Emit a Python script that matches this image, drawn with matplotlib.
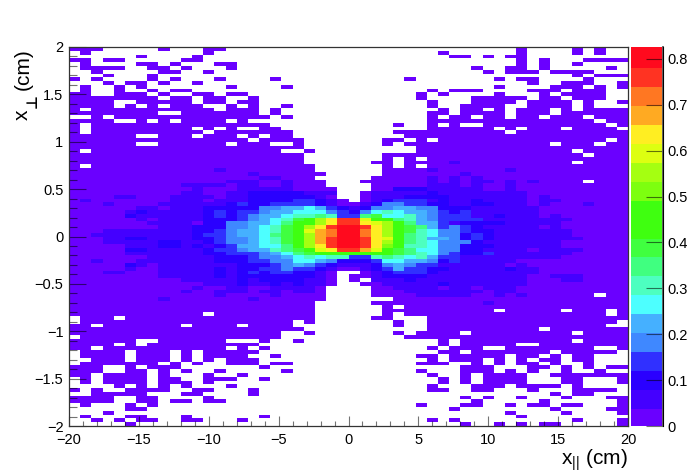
"""Recreate the x_par / x_perp 2D histogram with its stepped colour palette."""

from __future__ import annotations

import matplotlib
import numpy as np

matplotlib.use("Agg")

import matplotlib.pyplot as plt
from matplotlib.colors import BoundaryNorm, ListedColormap
from matplotlib.ticker import FixedLocator, MultipleLocator

WIDTH, HEIGHT = 698, 475
LEFT, RIGHT, TOP, BOTTOM = 69, 628, 47, 426
BAR_LEFT, BAR_RIGHT = 631, 663

X_RANGE = (-20.0, 20.0)
Y_RANGE = (-2.0, 2.0)
Z_MAX = 0.826
X_TICKS = [-20, -15, -10, -5, 0, 5, 10, 15, 20]
Y_TICKS = [-2, -1.5, -1, -0.5, 0, 0.5, 1, 1.5, 2]
Z_TICKS = [0, 0.1, 0.2, 0.3, 0.4, 0.5, 0.6, 0.7, 0.8]

PALETTE = [
    "#6a00ff", "#4400ff", "#2a00ff", "#3030ff", "#3f88ff",
    "#45b0ff", "#4dffff", "#4dffc0", "#40ff80", "#40ff40",
    "#3fff10", "#3fff10", "#7dff0f", "#a5ff11", "#ddff11",
    "#ffee22", "#ffaa22", "#ff7722", "#ff3322", "#ff0a1e",
]

# one character per bin, top row first: "." is empty, 0-9 then a-j are palette levels
LEVEL_CODES = "0123456789abcdefghij"
E = ".........."
A = "0000000000"
LEVEL_ROWS = [
    ["000.....0.", "..00......", E, E, "0....0.0.."],
    [".0........", "..0.......", E, "...0......", "0....0.0.."],
    ["......0...", ".0........", E, "....00.0.0", "0........."],
    ["00.00.....", "00........", E, E, "0.0...0000"],
    [".0....00.0", "...00.....", E, E, "0.0..0...."],
    [".0000..00.", "0...0.....", E, "......0..0", "0.0.....0."],
    ["..0.....00", "..0.......", E, ".......0.0", "00.0000..."],
    ["...0...0..", E, E, E, ".....0.000"],
    ["0.0....0.0", "...0....0.", E, "0.......0.", "00....0..."],
    ["...0.00.0.", ".0........", E, E, ".0..000..0"],
    [".0..0.0...", "....0....0", E, "........0.", "...000.0.0"],
    [".0..0..0.0", "0.........", E, "..0.000...", ".000.000.."],
    ["00..000.0.", ".00.00....", E, ".0.0....0.", "..0.0000.."],
    ["00000000.0", "0.00..0...", E, ".0....0000", "0.00.000.."],
    ["0000..0000", "0.00.00...", E, "..0...0000", ".0000.0..0"],
    ["0000.0.0.0", "00..0.0..0", E, "..0..0000.", ".0000.0..."],
    ["0.00000000", "000.000.0.", E, "...0.00.0.", "000.0.0000"],
    ["00000000..", "0000000.0.", E, "..00.0000.", "000.000000"],
    ["..0.000000", "00000000.0", E, "..0.00.00.", "00.000.000"],
    ["0000..0.0.", "0000.0....", E, "..00000000", "0000000.00"],
    ["0.00000000", "00000000..", ".........0", "..0.0..000", "00000000.0"],
    ["0.00000000", "0.0.0..00.", E, "..000000.0", ".000.0000."],
    ["0.00000000", "00.0000000", ".........0", "000000000.", A],
    ["000000..00", "0.000.0.00", E, A, A],
    [A, "000000.000", "0.......00", ".0.0000000", "00000000.0"],
    ["000000..00", "0000.000..", "0.......0.", A, "000.000.00"],
    [A, A, "0.........", ".000000000", A],
    ["0.00000000", "000000000.", ".0........", ".000000000", "00000.0000"],
    [A, A, "0.......00", A, "000000.000"],
    [A, A, "0.......0.", "0.00000000", A],
    [A, A, "0......00.", "0000100000", "00000.0000"],
    ["0.00000000", A, "00......0.", "0.00000000", A],
    [A, "0001000000", "00......00", "0010000001", A],
    [A, "0000001000", "000.....00", "0000010000", A],
    [A, "0000000110", "00.....000", "0010101000", A],
    [A, "0000111001", "000...0000", "0010101101", "010000.000"],
    [A, "1111011001", "000....000", "0011101001", A],
    [A, "0100011111", "0000...002", "2211111001", A],
    [A, "1100112222", "2111..0111", "1121111111", "1000000000"],
    ["0000110001", "1110112222", "2210..0111", "2222111111", "1010000000"],
    ["0100000001", "1101112222", "33210.0123", "3312112111", "1011000000"],
    ["0001000011", "1111232233", "3321001244", "3322112211", "1010001000"],
    ["0000001101", "1122222445", "5653212445", "5442221111", "1100000000"],
    ["0000012111", "1123233455", "6664324676", "5543231111", "1100000000"],
    ["0000021111", "1123234556", "7787338966", "7543331121", "1101000000"],
    ["0000001011", "1122234567", "9bdfiieba8", "7543333111", "1111100000"],
    ["0000000111", "1022445568", "abdfiifeda", "8553122221", "1111000000"],
    ["0000000011", "1222445679", "bdfijjifda", "9853432111", "1101000000"],
    ["0001111111", "1223455679", "beghjjhfda", "9764432211", "1111100000"],
    ["0011111111", "1233455689", "bdghjjhfda", "8764423211", "1111100000"],
    ["0001122111", "1223445679", "bdgijjifea", "8755423211", "1111110000"],
    ["0001111122", "1123445679", "bdgijjifda", "8764442111", "1111000000"],
    ["0000011122", "1212355668", "adfijjifca", "7764422211", "1111000000"],
    ["0000022111", "1123345578", "9befiigeb9", "8664422111", "1011110000"],
    ["0000011111", "1122333456", "89bbaaaba9", "8764322311", "1111100000"],
    ["0000000111", "1112223445", "6767733787", "6753311111", "1111000000"],
    ["0010001111", "1112223344", "6654222366", "5542311111", A],
    ["0000021011", "1111122234", "5432111245", "4331111110", "1000000000"],
    ["0000010011", "1112122334", "3321001235", "3322111112", "1100000000"],
    ["0001100011", "1112123233", "2210..0123", "3321111111", "1100000000"],
    ["0000000011", "1112122222", "2210.00122", "2211111111", "1001110000"],
    [A, "1111121222", "2110.0.111", "2111111111", "1000110000"],
    [A, "0011121121", "2110..0011", "1112111111", "1000000000"],
    [A, "0100110011", "110....001", "1110110111", A],
    [A, "1001110110", "110....000", "1111111011", A],
    [A, "0001000010", "000....000", "0111110010", "1000000.00"],
    ["0000000010", "0000001000", "000......0", A, A],
    [A, A, "00.....000", "0000000100", A],
    [A, A, "00......0.", A, A],
    [A, A, "00......00", "00000000.0", "0000.000.0"],
    [A, "00.0000000", "00......0.", A, "00000000.0"],
    [".000.00000", A, "00.....00.", "..00000000", A],
    [".000000000", A, ".0.......0", "..00000000", "000000000."],
    ["00.0000000", ".0000.0000", ".........0", "..00000000", "00000000.."],
    [A, A, "0.........", "..00000000", "00.0000000"],
    [A, "000000000.", ".0.......0", ".0000.0000", "00000.0000"],
    [".000000000", "000000000.", E, A, A],
    ["000000..00", "0000...0..", "0.........", "...0.00000", "00000.0000"],
    ["0000.0.000", "0000000...", E, "...0.00000", "..00000000"],
    ["00.0000000", "0000.0.0..", E, "..0.000..0", "0000000..0"],
    [".0000.000.", "0.00000...", E, "...00.0000", "000.00000."],
    [".0000.000.", "0.0000..0.", E, ".00.00000.", "00.0.00..."],
    ["..000.000.", "0.0.000...", E, "..0.000.0.", "0.00.00..."],
    [".0000000.0", ".0..000.00", E, ".000..0.0.", "00.0..0..."],
    ["000..0.000", ".......0..", E, ".....000..", ".00.0.0.00"],
    ["000..00.0.", "0..0.....0", E, ".0...000.0", ".0..0..0.."],
    ["00.0000.0.", "..0..0....", E, "..0..0.000", "0..0000000"],
    [".0.0000.00", "..000..0..", E, "...0.0.000", "0...00...0"],
    [".0.0000.00", "0.0.......", E, "...0.0.000", "0...00...0"],
    ["....0.0.0.", "0...0.....", E, "..0...000.", "0000.0...."],
    ["0.0..0000.", ".00...0...", E, "..00..00..", ".0...0000."],
    ["..00000...", "00....0...", E, E, "...0.00..."],
    ["0000..00..", "..0.......", E, ".....0.0..", "0...0...00"],
    ["0000..00.0", "0.00......", E, "......0...", "..0......0"],
    [".0...0.0..", E, E, ".0...00..0", ".00.00...0"],
    [".....00...", E, E, "....0.....", "...0....00"],
    ["...0......", E, E, ".........0", "....0....0"],
    [".0...00...", "0......0..", E, E, "0........."],
    ["..0.0.00..", "00...0....", E, "..0.0.....", ".....0...0"],
    [".....0....", E, E, ".....0..0.", "0.00.....0"],
]


def build_grid() -> np.ma.MaskedArray:
    """Turn the level rows into a masked array of bin contents, bottom row first."""

    step = Z_MAX / len(PALETTE)
    rows = []
    for groups in LEVEL_ROWS:
        text = "".join(groups)
        rows.append([(LEVEL_CODES.index(c) + 0.5) * step if c != "." else np.nan for c in text])
    return np.ma.masked_invalid(np.array(rows[::-1]))


def add_rotated(fig, x_px, y_px, label, **kwargs) -> None:
    """Place one rotated piece of the y title, anchored at its baseline start."""

    fig.text(x_px / WIDTH, 1 - y_px / HEIGHT, label, rotation=90, ha="left", va="baseline",
             rotation_mode="anchor", **kwargs)


def main() -> None:
    plt.rcParams["font.family"] = ["Liberation Sans", "DejaVu Sans"]
    plt.rcParams["mathtext.fontset"] = "custom"
    plt.rcParams["mathtext.rm"] = "Liberation Sans"

    fig = plt.figure(figsize=(WIDTH / 100, HEIGHT / 100), dpi=100)
    ax = fig.add_axes(
        [LEFT / WIDTH, 1 - BOTTOM / HEIGHT, (RIGHT - LEFT) / WIDTH, (BOTTOM - TOP) / HEIGHT]
    )
    cax = fig.add_axes(
        [BAR_LEFT / WIDTH, 1 - BOTTOM / HEIGHT, (BAR_RIGHT - BAR_LEFT) / WIDTH, (BOTTOM - TOP) / HEIGHT]
    )

    grid = build_grid()
    n_rows, n_cols = grid.shape
    x_edges = np.linspace(*X_RANGE, n_cols + 1)
    y_edges = np.linspace(*Y_RANGE, n_rows + 1)
    cmap = ListedColormap(PALETTE)
    norm = BoundaryNorm(np.linspace(0, Z_MAX, len(PALETTE) + 1), cmap.N)
    mesh = ax.pcolormesh(x_edges, y_edges, grid, cmap=cmap, norm=norm, linewidth=0, rasterized=True)

    tick_color = (0, 0, 0, 0.55)
    ax.set_xlim(*X_RANGE)
    ax.set_ylim(*Y_RANGE)
    ax.xaxis.set_major_locator(FixedLocator(X_TICKS))
    ax.yaxis.set_major_locator(FixedLocator(Y_TICKS))
    ax.xaxis.set_minor_locator(MultipleLocator(1))
    ax.yaxis.set_minor_locator(MultipleLocator(0.1))
    ax.set_xticklabels([str(t).replace("-", "\u2212") for t in X_TICKS])
    ax.set_yticklabels([f"{t:g}".replace("-", "\u2212") for t in Y_TICKS])
    ax.tick_params(axis="x", which="major", direction="in", length=7.2, width=0.8,
                   color=tick_color, labelsize=10.5, pad=5)
    ax.tick_params(axis="x", which="minor", direction="in", length=3.6, width=0.8, color=tick_color)
    ax.tick_params(axis="y", which="major", direction="in", length=12.2, width=0.8,
                   color=tick_color, labelsize=10.5, pad=4)
    ax.tick_params(axis="y", which="minor", direction="in", length=6, width=0.8, color=tick_color)
    for spine in ax.spines.values():
        spine.set_linewidth(0.9)
        spine.set_color("#333333")

    bar = fig.colorbar(mesh, cax=cax, spacing="proportional", ticks=Z_TICKS)
    bar.solids.set_edgecolor("face")
    cax.set_yticklabels([f"{t:g}" for t in Z_TICKS])
    cax.minorticks_off()
    cax.tick_params(axis="y", direction="in", length=12.2, width=0.8, color=tick_color,
                    labelsize=10.5, pad=3.5, right=True, left=False)
    bar.outline.set_visible(False)
    cax.spines["right"].set_visible(True)
    cax.axvline(1, color="#666666", linewidth=1.4, clip_on=False)

    fig.text(628 / WIDTH, 1 - 465 / HEIGHT, r"$\mathregular{x_{||}}$ (cm)", fontsize=15,
             ha="right", va="baseline")
    add_rotated(fig, 28, 120, "x", fontsize=15)
    add_rotated(fig, 37, 108.5, "\u22a5", fontsize=11, fontweight="bold", family="DejaVu Sans")
    add_rotated(fig, 29, 90, "(cm)", fontsize=15)

    fig.savefig("out.png", dpi=100)
    plt.close(fig)


if __name__ == "__main__":
    main()
